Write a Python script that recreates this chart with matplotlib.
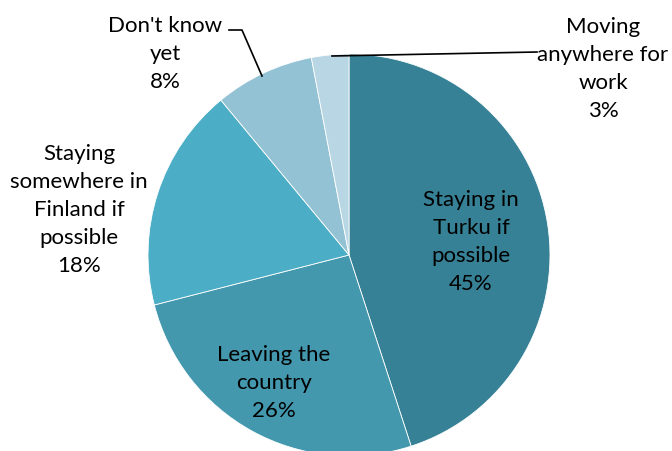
import matplotlib
matplotlib.use("Agg")
import matplotlib.pyplot as plt

labels = ["Staying in\nTurku if\npossible", "Leaving the\ncountry",
          "Staying\nsomewhere in\nFinland if\npossible", "Don't know\nyet",
          "Moving\nanywhere for\nwork"]
shares = [45, 26, 18, 8, 3]
colors = ["#378196", "#4398ae", "#4badc6", "#93c2d5", "#b8d6e3"]

plt.rcParams["font.family"] = ["Lato", "DejaVu Sans"]

fig = plt.figure(figsize=(6.72, 4.52), dpi=100)
ax = fig.add_axes([0, 0, 1, 1])

ax.pie(shares, colors=colors, startangle=90, counterclock=False,
       center=(349, 196), radius=201, frame=True,
       wedgeprops=dict(edgecolor="white", linewidth=0.6))
ax.set_xlim(0, 672)
ax.set_ylim(0, 452)
ax.set_axis_off()

# label positions (pixel coords, y up)
label_xy = [(471, 210), (274, 69), (79, 242), (165, 398), (603, 383)]
for lab, val, (x, y) in zip(labels, shares, label_xy):
    ax.text(x, y, f"{lab}\n{val}%", ha="center", va="center",
            fontsize=16, linespacing=1.5, color="black")

# leader lines
ax.plot([229, 242, 262], [421, 421, 375], color="black", lw=1.2)
ax.plot([332, 537], [395, 399], color="black", lw=1.2)

fig.savefig("out.png", dpi=100)
